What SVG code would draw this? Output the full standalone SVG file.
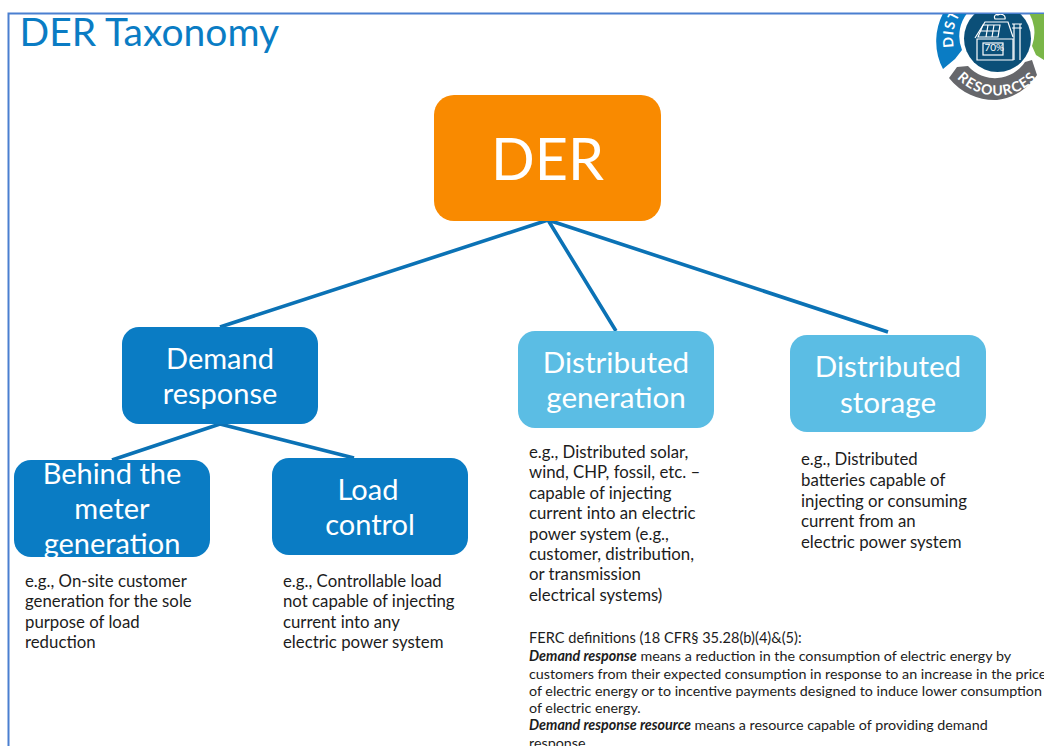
<svg xmlns="http://www.w3.org/2000/svg" width="1044" height="746" viewBox="0 0 1044 746">
<style>
text{font-family:Lato,"Open Sans","Liberation Sans",sans-serif}
.n{font-size:29px;fill:#fff;text-anchor:middle}
.m{font-size:29.600px;fill:#fff;text-anchor:middle}
.d{font-size:16.800px;fill:#1c1c1c}
.f{font-size:14.300px;fill:#1c1c1c}
.l{fill:none;stroke:#0b72b5;stroke-width:3.6}
.b1{fill:#0a7cc4}.b2{fill:#5bbde4}
</style>
<defs>
<clipPath id="c"><rect x="900" y="14" width="144" height="100"/></clipPath>
<path id="arcB" d="M950 69A55 55 0 0 0 1044 69"/>
<path id="arcT" d="M954 47A44 44 0 0 1 997 -6"/>
</defs>
<rect width="1044" height="746" fill="#fff"/>
<g id="frame"><path d="M8.500 746V13.500H1044" fill="none" stroke="#4a7fd0" stroke-width="2"/></g>
<text id="title" x="19.500" y="46" font-size="39" fill="#0a7cc4">DER Taxonomy</text>
<g id="logo" clip-path="url(#c)">
<path d="M943 69A60 60 0 0 1 945 10H970A37 37 0 0 0 962 50L955 59Z" fill="#0a7cc4"/>
<path d="M1027 10A38 38 0 0 1 1032 46L1036 55L1044 60V10Z" fill="#7ab648"/>
<path d="M949 78A58 58 0 0 0 997 100A56 56 0 0 0 1037 75L1032 60L1025 62A36 36 0 0 1 968 66L957 67Z" fill="#66676b"/>
<circle cx="997.500" cy="38.500" r="33.500" fill="#0b4f78"/>
<g fill="none" stroke="#fff" stroke-width="1.200">
<path d="M975 38L985 22H1008L1013 37M977 39H1013V60H977Z"/>
<path d="M978 37L983 25H1000L998 37ZM981 31H999M988 25L986 37M994 25L992 37"/>
<rect x="983" y="43" width="20" height="12"/>
<path d="M1014 60V24M1020 60V24M1012 24H1022M1012 28H1022"/>
<path d="M995 19C993 15 997 14 998 15C1001 13 1006 15 1005 19Z"/>
</g>
<text x="984.500" y="51" font-size="10" fill="#fff">70%</text>
<text font-size="14" font-weight="700" fill="#fff" letter-spacing="1"><textPath href="#arcT">DISTR</textPath></text>
<text font-size="14" font-weight="700" fill="#fff" letter-spacing="1" text-anchor="middle"><textPath href="#arcB" startOffset="50%">RESOURCES</textPath></text>
</g>
<g id="connectors">
<path class="l" d="M548 220L220 327M548 220L616 331M548 220L888 332M220 424L112 460M220 424L354 458"/>
</g>
<g id="node-der"><rect x="434" y="95" width="227" height="126" rx="20" fill="#f98a00"/><text x="547.500" y="180" font-size="57.500" fill="#fff" text-anchor="middle">DER</text></g>
<g id="node-demand-response"><rect class="b1" x="122" y="327" width="196" height="97" rx="17"/><text class="n" x="220" y="369">Demand</text><text class="n" x="220" y="404">response</text></g>
<g id="node-distributed-generation"><rect class="b2" x="518" y="331" width="196" height="97" rx="17"/><text class="m" x="616" y="373">Distributed</text><text class="m" x="616" y="408">generation</text></g>
<g id="node-distributed-storage"><rect class="b2" x="790" y="335" width="196" height="97" rx="17"/><text class="m" x="888" y="377">Distributed</text><text class="m" x="888" y="413">storage</text></g>
<g id="node-behind-the-meter"><rect class="b1" x="14" y="460" width="196" height="97" rx="17"/><text class="n" x="112" y="484">Behind the</text><text class="n" x="112" y="519">meter</text><text class="n" x="112" y="554">generation</text></g>
<g id="node-load-control"><rect class="b1" x="272" y="458" width="196" height="97" rx="17"/><text class="n" x="368" y="500">Load</text><text class="n" x="370" y="535">control</text></g>
<g id="desc-behind"><text class="d" x="25" y="587">e.g., On-site customer</text><text class="d" x="25" y="607">generation for the sole</text><text class="d" x="25" y="628">purpose of load</text><text class="d" x="25" y="648">reduction</text></g>
<g id="desc-load"><text class="d" x="283" y="587">e.g., Controllable load</text><text class="d" x="283" y="607">not capable of injecting</text><text class="d" x="283" y="628">current into any</text><text class="d" x="283" y="648">electric power system</text></g>
<g id="desc-generation"><text class="d" x="529" y="458">e.g., Distributed solar,</text><text class="d" x="529" y="478">wind, CHP, fossil, etc. –</text><text class="d" x="529" y="499">capable of injecting</text><text class="d" x="529" y="519">current into an electric</text><text class="d" x="529" y="540">power system (e.g.,</text><text class="d" x="529" y="560">customer, distribution,</text><text class="d" x="529" y="580">or transmission</text><text class="d" x="529" y="601">electrical systems)</text></g>
<g id="desc-storage"><text class="d" x="801" y="465">e.g., Distributed</text><text class="d" x="801" y="486">batteries capable of</text><text class="d" x="801" y="507">injecting or consuming</text><text class="d" x="801" y="527">current from an</text><text class="d" x="801" y="548">electric power system</text></g>
<g id="ferc">
<text class="f" x="529" y="643" style="font-size:14.600px">FERC definitions (18 CFR§ 35.28(b)(4)&amp;(5):</text>
<text class="f" x="529" y="661"><tspan font-weight="700" font-style="italic">Demand response</tspan> means a reduction in the consumption of electric energy by</text>
<text class="f" x="529" y="679">customers from their expected consumption in response to an increase in the price</text>
<text class="f" x="529" y="696">of electric energy or to incentive payments designed to induce lower consumption</text>
<text class="f" x="529" y="713">of electric energy.</text>
<text class="f" x="529" y="730"><tspan font-weight="700" font-style="italic">Demand response resource</tspan> means a resource capable of providing demand</text>
<text class="f" x="529" y="748">response.</text>
</g>
</svg>
